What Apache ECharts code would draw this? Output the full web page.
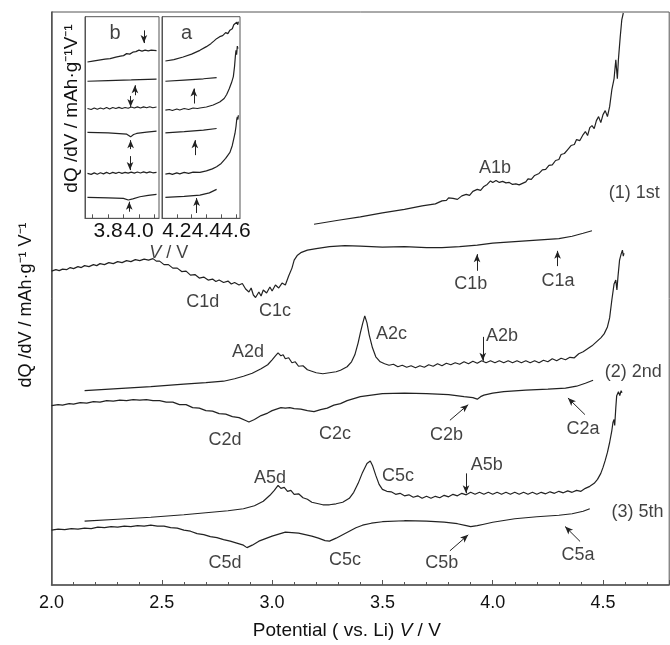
<!DOCTYPE html>
<html>
<head>
<meta charset="utf-8">
<script src="https://cdn.jsdelivr.net/npm/echarts@6/dist/echarts.min.js"></script>
<style>
  html, body { margin: 0; padding: 0; background: #fff; }
  #chart { width: 670px; height: 645px; }
</style>
</head>
<body>
<div id="chart"></div>
<script>
// main panel: x = potential (V), y = offset dQ/dV (arbitrary units, stacked)
const charge1 = [[3.19,362],[3.30,366],[3.40,369.5],[3.50,373.5],[3.60,377],[3.68,380.5],[3.74,382.5],[3.77,385.5],[3.79,386],[3.80,388.5],[3.82,388],[3.84,387],[3.86,390.5],[3.88,392],[3.895,391],[3.91,395],[3.93,397],[3.945,396],[3.96,400],[3.975,402],[3.99,405.5],[4.00,404],[4.015,406],[4.03,404],[4.045,405],[4.06,403.5],[4.075,404],[4.09,402],[4.105,402.5],[4.12,401.5],[4.135,403],[4.15,404.5],[4.16,407.5],[4.175,407],[4.19,411],[4.21,413],[4.225,416.5],[4.24,417],[4.255,421],[4.27,421.5],[4.285,426],[4.30,427],[4.31,432],[4.325,433],[4.34,437],[4.355,441],[4.37,442],[4.38,447],[4.395,446],[4.41,452],[4.42,455],[4.43,451],[4.44,459],[4.45,461],[4.46,458],[4.47,466],[4.48,470],[4.49,464],[4.50,472],[4.51,476],[4.52,470],[4.53,480],[4.54,497],[4.55,508],[4.558,527],[4.565,508],[4.57,528],[4.578,550],[4.585,567],[4.592,574]];
const discharge1 = [[2.00,315],[2.02,316.5],[2.035,315.5],[2.05,317],[2.07,316.5],[2.085,318.5],[2.10,317.5],[2.12,319.5],[2.135,318.5],[2.15,320.5],[2.17,319.5],[2.19,321.5],[2.205,320.5],[2.22,322.5],[2.24,321.5],[2.26,323.5],[2.28,322.5],[2.30,324.5],[2.32,323.5],[2.34,325.5],[2.36,324.5],[2.38,326.5],[2.40,325.5],[2.42,327],[2.44,326],[2.46,327.5],[2.475,325],[2.49,325],[2.51,321.5],[2.53,321.5],[2.55,318],[2.57,318],[2.59,314.5],[2.61,315],[2.63,311],[2.65,311.5],[2.67,308],[2.69,309],[2.71,306],[2.73,307],[2.745,304.5],[2.76,306],[2.78,303.5],[2.80,305],[2.815,302],[2.83,303.5],[2.85,301],[2.865,302.5],[2.88,297],[2.895,294],[2.905,298],[2.915,291],[2.925,288.5],[2.94,294],[2.95,290],[2.96,296],[2.975,293],[2.99,299],[3.00,295],[3.015,301],[3.03,298],[3.045,303],[3.06,301],[3.075,310],[3.09,318],[3.10,326],[3.115,331],[3.13,333.5],[3.16,336],[3.20,337.5],[3.26,339.5],[3.33,340.5],[3.40,340],[3.50,339],[3.60,339.5],[3.70,338.5],[3.77,338.5],[3.85,339.5],[3.93,341],[4.00,343],[4.10,344.5],[4.20,346],[4.30,347.5],[4.36,350],[4.41,353],[4.45,355.5]];
const charge2 = [[2.15,195],[2.30,197],[2.45,199],[2.60,201.5],[2.70,203],[2.78,204.5],[2.83,207],[2.87,209.5],[2.91,212.5],[2.95,217],[2.98,221],[3.00,226],[3.015,230],[3.027,233],[3.04,230],[3.05,231],[3.06,227],[3.075,228],[3.09,223],[3.105,224],[3.12,219.5],[3.14,220],[3.16,216],[3.18,214.5],[3.20,213],[3.23,212],[3.26,213],[3.29,214],[3.31,215.5],[3.34,219],[3.36,224],[3.375,231],[3.39,243],[3.40,253],[3.41,262],[3.42,270],[3.43,263],[3.44,251],[3.455,238],[3.47,229],[3.49,224],[3.51,222],[3.53,220.5],[3.55,221.5],[3.57,219],[3.59,220.5],[3.61,218.5],[3.63,220],[3.65,218],[3.67,220],[3.69,218.5],[3.71,221],[3.73,219.5],[3.75,222],[3.77,220],[3.79,222.5],[3.81,221],[3.83,223],[3.85,221.5],[3.87,224],[3.89,222],[3.91,224.5],[3.93,222.5],[3.95,225],[3.97,223],[3.99,225],[4.01,223],[4.03,225],[4.05,223],[4.07,225],[4.09,223],[4.11,225],[4.13,223],[4.15,225],[4.17,223],[4.19,225],[4.21,223],[4.23,225.5],[4.25,224],[4.27,227],[4.29,225],[4.31,227.5],[4.33,226],[4.35,228.5],[4.37,228],[4.39,232],[4.41,234],[4.43,237],[4.45,240],[4.47,244],[4.49,248],[4.505,252],[4.52,259],[4.53,268],[4.54,286],[4.55,302],[4.558,306],[4.563,296],[4.568,310],[4.575,326],[4.582,332],[4.588,336],[4.592,330],[4.595,333]];
const discharge2 = [[2.00,180],[2.03,181],[2.05,180.5],[2.08,182],[2.10,181.5],[2.13,183],[2.16,182.5],[2.19,184],[2.22,183.5],[2.25,185],[2.28,184.5],[2.31,185.5],[2.34,185],[2.37,186],[2.40,185.5],[2.43,186],[2.46,185],[2.49,185],[2.52,183.5],[2.55,183.5],[2.58,181],[2.61,181],[2.64,178],[2.67,177.5],[2.70,175],[2.73,174.5],[2.76,172],[2.79,171.5],[2.82,169],[2.85,168],[2.88,165],[2.895,163.5],[2.92,166],[2.95,170],[2.98,172.5],[3.00,175],[3.02,176.5],[3.04,178],[3.06,177.5],[3.08,178],[3.10,177],[3.13,176.5],[3.16,175],[3.19,174],[3.22,176],[3.25,177.5],[3.28,180.5],[3.31,182],[3.34,185],[3.37,187],[3.40,189],[3.45,190.5],[3.50,192],[3.60,192.5],[3.70,192],[3.80,191],[3.87,189],[3.91,188],[3.93,186.5],[3.945,189],[3.96,190.5],[4.00,192.5],[4.05,194],[4.15,195.5],[4.25,196.5],[4.33,197.5],[4.38,199.5],[4.42,202.5],[4.455,205.5]];
const charge5 = [[2.15,64],[2.30,66],[2.45,68],[2.60,70.5],[2.70,72.5],[2.80,74.5],[2.87,76.5],[2.92,79.5],[2.96,84],[2.99,90],[3.01,95],[3.027,100],[3.04,97],[3.055,98],[3.07,94],[3.085,95],[3.10,91],[3.12,91.5],[3.14,87.5],[3.16,86],[3.18,83],[3.20,82],[3.23,80.5],[3.26,80.5],[3.29,81.5],[3.32,83],[3.35,87],[3.37,93],[3.39,102],[3.41,113],[3.43,122],[3.445,124.5],[3.455,120],[3.47,110],[3.485,101],[3.50,96],[3.52,94],[3.54,93.5],[3.56,91],[3.58,92],[3.60,89.5],[3.62,90.5],[3.64,88],[3.66,89.5],[3.68,87],[3.70,89],[3.72,87],[3.74,89],[3.76,87.5],[3.78,90],[3.80,88.5],[3.82,91],[3.84,89.5],[3.86,92],[3.88,90.5],[3.90,93],[3.92,91],[3.94,93],[3.96,91],[3.98,93],[4.00,91],[4.02,93],[4.04,91],[4.06,93],[4.08,91],[4.10,93],[4.12,91],[4.14,93],[4.16,91],[4.18,93],[4.20,91],[4.22,93],[4.24,91.5],[4.26,93.5],[4.28,92],[4.30,94],[4.32,92.5],[4.34,94.5],[4.36,93],[4.38,95],[4.40,94],[4.42,97],[4.44,99],[4.46,102],[4.475,106],[4.49,112],[4.50,118],[4.51,125],[4.52,133],[4.53,143],[4.54,155],[4.545,163],[4.55,166],[4.553,160],[4.558,178],[4.562,190],[4.57,194],[4.576,190],[4.582,195],[4.586,193]];
const discharge5 = [[2.00,55],[2.03,56],[2.06,55.5],[2.09,56.5],[2.12,56],[2.15,57],[2.18,56.5],[2.21,58],[2.24,57.5],[2.27,58.5],[2.30,58],[2.33,59],[2.36,58.5],[2.39,59.5],[2.42,59],[2.45,60],[2.48,59],[2.51,59],[2.54,57.5],[2.57,57],[2.60,55],[2.63,54],[2.66,51.5],[2.69,50.5],[2.72,48.5],[2.75,47.5],[2.78,45.5],[2.81,44],[2.84,42],[2.87,40],[2.886,37.5],[2.91,40],[2.94,44],[2.97,46.5],[3.00,49],[3.03,51],[3.06,53],[3.09,52.5],[3.12,52],[3.15,50.5],[3.18,49],[3.21,47],[3.24,44.5],[3.26,44],[3.29,47],[3.32,50.5],[3.35,54],[3.38,57.5],[3.41,60],[3.45,62],[3.50,63.5],[3.60,64.5],[3.70,64],[3.78,63],[3.84,61.5],[3.88,59.5],[3.90,58.5],[3.93,59.5],[3.96,61],[4.00,63],[4.10,66.5],[4.20,68.5],[4.30,70],[4.36,71.5],[4.41,74],[4.44,76.5]];

// inset b (3.65 - 4.13 V), six traces top to bottom
const insetB = [
  [[3.666,156.6],[3.70,157.5],[3.74,158.5],[3.78,159.5],[3.813,160],[3.85,161.5],[3.88,162.5],[3.90,163],[3.92,165],[3.94,164.5],[3.96,166.5],[3.98,167],[4.00,168.5],[4.02,167.5],[4.04,168.5],[4.06,167.8],[4.08,168.5],[4.114,168]],
  [[3.666,137.3],[3.80,138],[3.95,138.6],[4.114,139.5]],
  [[3.666,110],[3.69,109],[3.71,110.5],[3.73,109.2],[3.75,110.5],[3.77,109.5],[3.79,111],[3.81,109.5],[3.83,111],[3.85,110],[3.87,111.2],[3.89,110],[3.91,111],[3.93,110.3],[3.95,111.5],[3.97,110.5],[3.99,111.6],[4.01,110.5],[4.03,111.7],[4.05,110.8],[4.07,111.8],[4.09,110.8],[4.114,111.5]],
  [[3.666,86],[3.80,85.5],[3.921,84.3],[3.946,81.6],[3.965,84],[3.985,85],[4.05,86.3],[4.114,87.3]],
  [[3.666,45],[3.69,44],[3.71,45.5],[3.73,44.2],[3.75,45.6],[3.77,44.5],[3.79,46],[3.81,44.6],[3.83,46],[3.85,45],[3.87,46.2],[3.89,45],[3.91,46],[3.93,45.2],[3.95,46.3],[3.97,45.3],[3.99,46.4],[4.01,45.4],[4.03,46.5],[4.05,45.5],[4.07,46.5],[4.09,45.6],[4.114,46]],
  [[3.666,21],[3.80,20.5],[3.899,20],[3.931,18.3],[3.96,19.5],[4.006,21.6],[4.06,23],[4.114,24]]
];
// inset a (4.10 - 4.63 V)
const insetA = [
  [[4.123,157.6],[4.18,159],[4.243,161.6],[4.30,164.5],[4.356,168.3],[4.40,172],[4.43,175],[4.45,177.5],[4.469,180],[4.49,182],[4.51,183],[4.53,186],[4.545,185],[4.559,188.5],[4.575,190],[4.585,194],[4.595,192],[4.605,196.5],[4.612,194],[4.616,197]],
  [[4.123,137.3],[4.25,138.5],[4.38,139.8],[4.469,141]],
  [[4.123,108.3],[4.15,109],[4.17,108],[4.20,109.5],[4.22,108.5],[4.25,110],[4.28,109],[4.31,110.5],[4.34,110],[4.356,110.5],[4.40,111.5],[4.446,113.5],[4.49,116.5],[4.52,120],[4.537,124],[4.555,130],[4.57,136],[4.582,142],[4.59,152],[4.596,163],[4.60,168.3],[4.604,164],[4.609,172.5],[4.613,170]],
  [[4.123,85.6],[4.25,86.8],[4.38,88.3],[4.469,90]],
  [[4.123,44.3],[4.15,45],[4.17,44],[4.20,45.5],[4.22,44.5],[4.25,46],[4.28,45],[4.31,46.2],[4.356,46],[4.40,47.5],[4.44,49.5],[4.469,51.6],[4.50,55],[4.53,60],[4.559,66],[4.575,73],[4.593,85],[4.60,92],[4.605,99],[4.609,101.6],[4.613,99],[4.616,103.3]],
  [[4.123,21],[4.25,22],[4.356,23.3],[4.42,25.5],[4.469,29]]
];

// peak labels [x, y, text]
const mainLabels = [
  [4.01,418.7,'A1b'], [4.642,393,'(1) 1st'],
  [2.686,283.7,'C1d'], [3.013,275.3,'C1c'], [3.901,302,'C1b'], [4.296,305.3,'C1a'],
  [2.891,234,'A2d'], [3.541,252,'A2c'], [4.042,250.3,'A2b'], [4.637,213.7,'(2) 2nd'],
  [2.786,145.3,'C2d'], [3.285,151,'C2c'], [3.791,150.3,'C2b'], [4.409,157,'C2a'],
  [2.99,107,'A5d'], [3.571,109,'C5c'], [3.973,120.3,'A5b'], [4.656,73.7,'(3) 5th'],
  [2.786,22,'C5d'], [3.33,25,'C5c'], [3.769,22,'C5b'], [4.387,30.3,'C5a'],
  [2.531,333,'{i|V} / V']
];
// arrows [x1, y1, x2, y2], head at the second point
const mainArrows = [
  [3.929,315.3,3.929,332], [4.294,320,4.294,335.3], [3.955,249,3.955,225],
  [3.806,165.3,3.889,181], [4.418,171,4.341,187.7], [3.879,112,3.879,92],
  [3.806,34.3,3.889,50.3], [4.396,43.7,4.328,58.7]
];
const arrowsB = [
  [4.032,188.3,4.032,175.6], [3.974,123.3,3.974,133.3], [3.946,122.6,3.946,111.6],
  [3.946,69.3,3.946,78.3], [3.942,62.3,3.942,48.3], [3.937,6.6,3.937,16.6]
];
const arrowsA = [[4.315,115,4.315,130], [4.322,63.3,4.322,78.3], [4.334,5.3,4.334,20.3]];

const xLabelsMain = [2.0, 2.5, 3.0, 3.5, 4.0, 4.5];
const xTicksB = [3.7, 3.8, 3.9, 4.0, 4.1];
const xLabelsB = [3.8, 4.0];
const xTicksA = [4.2, 4.3, 4.4, 4.5, 4.6];
const xLabelsA = [4.2, 4.4, 4.6];

const FONT = '"Liberation Sans", Arial, sans-serif';
const INK = '#111';
const AXIS = '#555';

const chart = echarts.init(document.getElementById('chart'));

const line = (data, i) => ({
  type: 'line', xAxisIndex: i, yAxisIndex: i, data,
  symbol: 'none', silent: true,
  lineStyle: { color: '#222', width: 1.2 }
});

const arrows = (list, i) => ({
  type: 'line', xAxisIndex: i, yAxisIndex: i, data: [],
  markLine: {
    silent: true,
    symbol: ['none', 'arrow'],
    symbolSize: [5, 8],
    label: { show: false },
    lineStyle: { color: '#222', width: 1, type: 'solid' },
    data: list.map(a => [{ coord: [a[0], a[1]] }, { coord: [a[2], a[3]] }])
  }
});

const texts = (list, i, size) => ({
  type: 'scatter', xAxisIndex: i, yAxisIndex: i, symbolSize: 0, silent: true,
  data: list.map(t => ({ value: [t[0], t[1]], name: t[2] })),
  label: {
    show: true, position: 'inside', formatter: p => p.name,
    fontSize: size, color: INK, fontFamily: FONT,
    rich: { i: { fontStyle: 'italic', fontSize: size, color: INK, fontFamily: FONT } }
  }
});

const insetX = (idx, min, max, ticks, labels) => ({
  type: 'value', gridIndex: idx, min, max,
  axisLine: { show: true, lineStyle: { color: AXIS } },
  splitLine: { show: false },
  axisTick: { inside: true, length: 4, customValues: ticks, lineStyle: { color: AXIS } },
  axisLabel: {
    customValues: labels, margin: 2, fontSize: 21, color: INK, fontFamily: FONT,
    formatter: v => v.toFixed(1)
  }
});

const insetY = (idx, withName) => ({
  type: 'value', gridIndex: idx, min: 0, max: 202,
  axisLine: { show: true, lineStyle: { color: AXIS } },
  axisTick: { show: false }, axisLabel: { show: false }, splitLine: { show: false },
  name: withName ? 'dQ /dV / mAh·g⁻¹V⁻¹' : '',
  nameLocation: 'middle', nameRotate: 90, nameGap: 4,
  nameTextStyle: { fontSize: 19, color: INK, fontFamily: FONT, padding: [0, 0, 0, 18] }
});

const option = {
  animation: false,
  backgroundColor: '#fff',
  grid: [
    { left: 51.5, top: 12, width: 617.7, height: 575, show: true, borderColor: AXIS, borderWidth: 1 },
    { left: 85, top: 16.7, width: 74, height: 201.6, show: true, borderColor: AXIS, borderWidth: 1 },
    { left: 162, top: 16.7, width: 78, height: 201.6, show: true, borderColor: AXIS, borderWidth: 1 }
  ],
  xAxis: [
    {
      type: 'value', gridIndex: 0, min: 2.0, max: 4.8, interval: 0.5,
      axisLine: { show: true, lineStyle: { color: AXIS, width: 1.5 } },
      splitLine: { show: false },
      axisTick: { inside: true, length: 5, lineStyle: { color: AXIS } },
      minorTick: { show: true, splitNumber: 5, length: 3, lineStyle: { color: AXIS } },
      axisLabel: {
        customValues: xLabelsMain, margin: 9, fontSize: 18, color: INK, fontFamily: FONT,
        formatter: v => v.toFixed(1)
      },
      name: 'Potential ( vs. Li) {i|V} / V',
      nameLocation: 'middle', nameGap: 36,
      nameTextStyle: {
        fontSize: 19, color: INK, fontFamily: FONT, padding: [0, 27, 0, 0],
        rich: { i: { fontStyle: 'italic', fontSize: 19, color: INK, fontFamily: FONT } }
      }
    },
    insetX(1, 3.65, 4.13, xTicksB, xLabelsB),
    insetX(2, 4.10, 4.627, xTicksA, xLabelsA)
  ],
  yAxis: [
    {
      type: 'value', gridIndex: 0, min: 0, max: 575,
      axisLine: { show: true, lineStyle: { color: AXIS, width: 1.5 } },
      axisTick: { show: false }, axisLabel: { show: false }, splitLine: { show: false },
      name: 'dQ /dV / mAh·g⁻¹ V⁻¹',
      nameLocation: 'middle', nameRotate: 90, nameGap: 16,
      nameTextStyle: { fontSize: 18, color: INK, fontFamily: FONT, padding: [0, 13, 0, 0] }
    },
    insetY(1, true),
    insetY(2, false)
  ],
  series: [
    line(charge1, 0), line(discharge1, 0),
    line(charge2, 0), line(discharge2, 0),
    line(charge5, 0), line(discharge5, 0),
    ...insetB.map(d => line(d, 1)),
    ...insetA.map(d => line(d, 2)),
    arrows(mainArrows, 0), arrows(arrowsB, 1), arrows(arrowsA, 2),
    texts(mainLabels, 0, 18),
    texts([[3.845, 185, 'b']], 1, 20),
    texts([[4.266, 185, 'a']], 2, 20)
  ]
};

chart.setOption(option);
</script>
</body>
</html>
